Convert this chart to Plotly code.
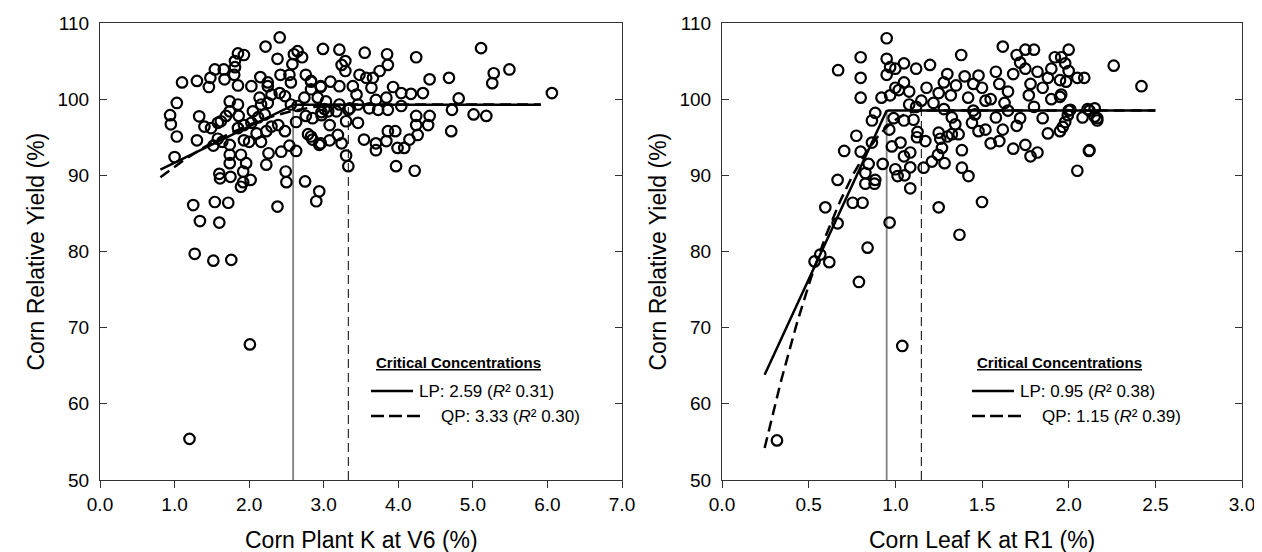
import numpy as np
import plotly.graph_objects as go

# ---------------- data: left panel (Corn Plant K at V6) ----------------
v6_k = [2.41, 2.22, 2.38, 1.85, 1.93, 1.81, 1.81, 1.54, 1.66, 1.48, 1.10, 1.30, 1.46, 1.67, 1.80, 1.85,
        2.03, 2.15, 2.25, 2.25, 2.42, 2.54, 2.56, 2.65, 2.71, 2.60, 2.58, 2.76, 2.83, 2.96, 2.99, 1.03,
        0.94, 0.95, 1.03, 1.00, 1.33, 1.30, 1.40, 1.49, 1.58, 1.62, 1.69, 1.74, 1.85, 1.86, 1.74, 1.58,
        1.64, 1.52, 1.74, 1.74, 1.74, 1.89, 1.96, 1.92, 1.60, 1.75, 1.61, 1.92, 1.89, 2.02, 1.85, 1.93,
        2.03, 2.12, 2.21, 2.05, 2.16, 2.25, 2.30, 2.41, 2.48, 2.14, 2.63, 2.56, 2.65, 2.74, 2.83, 2.92,
        2.76, 2.97, 3.01, 1.93, 2.00, 2.10, 2.16, 2.23, 2.48, 2.39, 2.30, 2.63, 2.54, 2.43, 2.26, 2.23,
        2.49, 2.50, 2.75, 2.79, 2.85, 2.96, 2.94, 2.90, 1.25, 1.54, 1.72, 2.38, 1.34, 1.60, 1.27, 1.52,
        1.76, 2.01, 1.20, 3.21, 3.55, 3.85, 3.86, 4.24, 5.11, 5.28, 5.26, 5.49, 6.06, 3.24, 3.29, 3.29,
        3.48, 3.57, 3.66, 3.75, 4.42, 4.68, 4.33, 4.81, 4.72, 5.01, 5.18, 4.71, 4.24, 4.42, 4.24, 4.40,
        4.26, 4.15, 4.08, 3.99, 3.86, 3.96, 3.84, 3.70, 3.70, 3.54, 3.97, 4.22, 3.30, 3.33, 2.83, 2.96,
        3.09, 3.21, 3.39, 3.44, 3.64, 3.70, 3.93, 4.04, 4.17, 3.84, 4.04, 3.86, 3.73, 3.61, 3.46, 3.35,
        3.30, 3.46, 3.33, 3.21, 3.17, 3.03, 3.06, 2.97, 3.08, 3.19, 3.24, 3.08, 2.94, 2.83, 2.85]
v6_yield = [108.1, 106.9, 105.3, 106.0, 105.8, 105.0, 104.2, 103.9, 103.9, 102.8, 102.2, 102.4, 101.6, 102.6, 103.2, 101.8,
            101.7, 102.9, 102.2, 101.7, 103.2, 103.2, 102.2, 106.3, 105.5, 105.9, 104.6, 103.2, 102.4, 101.7, 106.6, 99.5,
            97.9, 96.7, 95.1, 92.4, 97.75, 94.6, 96.4, 96.2, 96.9, 97.1, 97.8, 98.4, 99.3, 97.8, 99.7, 94.8,
            94.4, 93.9, 94.0, 92.7, 91.6, 92.7, 91.6, 90.5, 90.2, 89.8, 89.6, 89.1, 88.5, 89.4, 96.2, 96.6,
            96.9, 97.6, 98.0, 98.4, 99.3, 99.5, 100.6, 100.8, 100.4, 100.2, 97.0, 99.3, 99.1, 100.2, 101.3, 100.2,
            97.8, 98.3, 98.7, 94.6, 94.4, 95.5, 94.4, 95.8, 95.8, 96.6, 96.4, 93.2, 93.9, 93.1, 92.9, 91.4,
            90.5, 89.1, 89.2, 95.4, 94.7, 94.2, 87.9, 86.6, 86.1, 86.5, 86.4, 85.9, 84.0, 83.8, 79.7, 78.8,
            78.9, 67.8, 55.4, 106.5, 106.1, 105.9, 104.5, 105.5, 106.7, 103.4, 102.1, 103.9, 100.8, 104.5, 105.0, 103.7,
            103.2, 102.8, 102.8, 103.7, 102.6, 102.8, 100.8, 100.1, 98.6, 98.0, 97.8, 95.8, 97.8, 97.8, 96.6, 96.6,
            95.3, 94.7, 93.6, 93.6, 95.8, 95.8, 94.5, 94.2, 93.3, 94.7, 91.2, 90.6, 92.6, 91.2, 102.3, 101.6,
            102.3, 101.7, 101.7, 100.6, 101.5, 99.9, 101.6, 100.8, 100.7, 100.2, 99.1, 98.6, 98.6, 98.8, 99.3, 98.8,
            97.1, 96.9, 98.6, 99.3, 98.4, 99.7, 98.4, 97.9, 96.6, 95.3, 94.2, 94.6, 94.0, 95.1, 97.5]

# ---------------- data: right panel (Corn Leaf K at R1) ----------------
r1_k = [0.317, 1.04, 0.79, 0.84, 0.534, 0.567, 0.619, 0.667, 0.967, 1.37, 1.25, 0.596, 0.754, 0.811, 1.50, 0.667,
        0.827, 0.880, 0.884, 0.705, 0.80, 0.775, 0.827, 0.846, 0.865, 0.865, 0.884, 0.927, 0.965, 0.98, 1.03, 1.05,
        1.086, 1.086, 1.00, 1.053, 1.086, 1.013, 1.05, 1.105, 0.99, 1.128, 1.125, 1.173, 1.163, 1.211, 1.246, 1.269,
        1.284, 1.259, 1.25, 1.30, 1.326, 1.365, 1.326, 1.384, 1.384, 1.422, 1.442, 1.48, 1.46, 1.346,
        0.95, 0.95, 0.97, 0.95, 0.80, 0.80, 0.67, 0.80, 0.92, 0.97, 1.00, 1.05, 1.05, 1.08, 1.12,
        1.18, 1.20, 1.25, 1.28, 1.30, 1.35, 1.38, 1.40, 1.45, 1.48, 1.50, 1.52, 1.55, 1.58, 1.60, 1.62,
        1.63, 1.65, 1.68, 1.70, 1.72, 1.75, 1.75, 1.78, 1.80, 1.82, 1.85, 1.88, 1.90, 1.92, 2.00, 2.05,
        2.12, 2.15, 2.05, 2.12, 2.15, 1.98, 1.95, 1.88, 1.82, 1.78, 1.75, 1.70, 1.68, 1.60, 1.55, 1.52,
        1.65, 1.72, 1.80, 1.85, 1.90, 2.00, 1.58, 1.62, 1.77, 1.95, 1.02, 1.08, 1.15, 1.22, 1.28, 1.32,
        1.42, 1.45, 1.12, 1.00, 2.0, 1.957, 1.98, 2.26, 2.09, 2.42, 1.95, 1.985, 1.957, 2.01, 2.11, 1.995,
        2.08, 2.165, 2.165, 1.966, 2.117]
r1_yield = [55.2, 67.6, 76.0, 80.5, 78.7, 79.6, 78.6, 83.7, 83.8, 82.2, 85.8, 85.8, 86.4, 86.4, 86.5, 89.4,
            88.9, 88.9, 89.4, 93.2, 93.1, 95.2, 90.3, 91.5, 94.3, 97.2, 98.2, 91.5, 96.0, 93.8, 94.3, 92.5,
            93.0, 91.05, 90.8, 90.0, 88.3, 89.9, 97.2, 97.3, 97.5, 95.7, 95.0, 94.5, 91.0, 91.8, 92.7, 93.6,
            91.6, 94.8, 95.6, 95.1, 95.4, 95.4, 97.6, 93.3, 91.0, 89.9, 96.9, 95.8, 98.0, 96.7,
            108.0, 105.3, 104.2, 103.2, 105.5, 102.8, 103.8, 100.2, 100.2, 100.5, 101.5, 102.2, 104.7, 101.0, 99.0,
            101.5, 104.5, 100.8, 102.2, 103.3, 101.8, 105.8, 103.0, 102.0, 103.1, 101.5, 99.8, 100.0, 103.6, 102.0, 106.9,
            99.5, 101.0, 103.3, 105.8, 104.8, 106.5, 104.0, 102.0, 106.5, 103.6, 101.5, 102.8, 104.0, 105.5, 103.7, 102.8,
            98.5, 98.8, 90.6, 93.3, 97.7, 97.0, 95.8, 95.5, 93.0, 92.5, 94.0, 96.5, 93.5, 94.5, 94.2, 96.0,
            98.5, 97.5, 99.0, 97.5, 100.0, 98.5, 97.6, 96.0, 100.5, 100.3, 101.2, 99.3, 99.8, 99.5, 98.7, 100.5,
            100.2, 98.5, 104.0, 104.0, 106.5, 105.5, 104.7, 104.4, 102.8, 101.7, 102.5, 102.3, 100.6, 98.6, 98.7, 97.9,
            97.6, 97.5, 97.2, 96.35, 93.2]

# ---------------- model fits (linear-plateau and quadratic-plateau) ----------------
v6_lp = dict(join=2.59, plateau=99.28, slope=4.80, xmin=0.81, xmax=5.91)
v6_qp = dict(join=3.33, plateau=99.30, curv=1.502, xmin=0.81, xmax=5.91)
r1_lp = dict(join=0.95, plateau=98.50, slope=49.25, xmin=0.246, xmax=2.50)
r1_qp = dict(join=1.15, plateau=98.50, curv=54.2, xmin=0.246, xmax=2.50)

legend_title = "Critical Concentrations"
v6_crit = [("LP", "2.59", "0.31"), ("QP", "3.33", "0.30")]
r1_crit = [("LP", "0.95", "0.38"), ("QP", "1.15", "0.39")]
x_titles = ["Corn Plant K at V6 (%)", "Corn Leaf K at R1 (%)"]
y_title = "Corn Relative Yield (%)"


def lp_curve(p):
    xs = np.linspace(p["xmin"], p["xmax"], 200)
    ys = np.where(xs < p["join"], p["plateau"] - p["slope"] * (p["join"] - xs), p["plateau"])
    return xs, ys


def qp_curve(p):
    xs = np.linspace(p["xmin"], p["xmax"], 300)
    ys = np.where(xs < p["join"], p["plateau"] - p["curv"] * (p["join"] - xs) ** 2, p["plateau"])
    return xs, ys


def crit_label(model, value, r2):
    return f"{model}: {value} (<i>R</i>\u00b2 {r2})"


W, H = 1262, 552
FONT = "Liberation Sans, Arial, sans-serif"
TICK_SIZE = 19
TITLE_SIZE = 23
LEG_TITLE_SIZE = 15
LEG_SIZE = 17

fig = go.Figure()

panels = [
    dict(k=v6_k, y=v6_yield, lp=v6_lp, qp=v6_qp, xa="x", ya="y"),
    dict(k=r1_k, y=r1_yield, lp=r1_lp, qp=r1_qp, xa="x2", ya="y2"),
]

for p in panels:
    # critical concentration verticals
    fig.add_trace(go.Scatter(x=[p["lp"]["join"], p["lp"]["join"]], y=[50, p["lp"]["plateau"]],
                             mode="lines", line=dict(color="#808080", width=1.8),
                             xaxis=p["xa"], yaxis=p["ya"], showlegend=False, hoverinfo="skip"))
    fig.add_trace(go.Scatter(x=[p["qp"]["join"], p["qp"]["join"]], y=[50, p["qp"]["plateau"]],
                             mode="lines", line=dict(color="black", width=1, dash="9px,5px"),
                             xaxis=p["xa"], yaxis=p["ya"], showlegend=False, hoverinfo="skip"))
    fig.add_trace(go.Scatter(x=p["k"], y=p["y"], mode="markers",
                             marker=dict(symbol="circle-open", size=10.5, color="black",
                                         line=dict(width=2.2, color="black")),
                             xaxis=p["xa"], yaxis=p["ya"], showlegend=False))
    xs, ys = lp_curve(p["lp"])
    fig.add_trace(go.Scatter(x=xs, y=ys, mode="lines", line=dict(color="black", width=2.5),
                             xaxis=p["xa"], yaxis=p["ya"], showlegend=False, hoverinfo="skip"))
    xs, ys = qp_curve(p["qp"])
    fig.add_trace(go.Scatter(x=xs, y=ys, mode="lines", line=dict(color="black", width=2.5, dash="11px,6px"),
                             xaxis=p["xa"], yaxis=p["ya"], showlegend=False, hoverinfo="skip"))

# geometry (pixels)
L1, R1 = 92, 614
L2, R2 = 714, 1234
TOP, BOT = 15, 472

axis_common = dict(showgrid=False, zeroline=False, showline=True, linecolor="#333333", linewidth=1.2,
                   tickfont=dict(family=FONT, size=TICK_SIZE, color="black"), ticklen=7, tickwidth=1.2,
                   tickcolor="#333333", automargin=False)

fig.update_layout(
    width=W, height=H, margin=dict(l=0, r=0, t=0, b=0),
    paper_bgcolor="white", plot_bgcolor="white",
    font=dict(family=FONT, color="black"),
    xaxis=dict(domain=[L1 / W, R1 / W], range=[0, 7], tickvals=[0, 1, 2, 3, 4, 5, 6, 7],
               ticktext=["0.0", "1.0", "2.0", "3.0", "4.0", "5.0", "6.0", "7.0"],
               ticks="outside", mirror=True, anchor="y", **axis_common),
    yaxis=dict(domain=[(H - BOT) / H, (H - TOP) / H], range=[50, 110], tickvals=list(range(50, 111, 10)),
               ticks="inside", mirror="ticks", anchor="x", ticklabelstandoff=6, **axis_common),
    xaxis2=dict(domain=[L2 / W, R2 / W], range=[0, 3], tickvals=[0, 0.5, 1, 1.5, 2, 2.5, 3],
                ticktext=["0.0", "0.5", "1.0", "1.5", "2.0", "2.5", "3.0"],
                ticks="outside", mirror=True, anchor="y2", **axis_common),
    yaxis2=dict(domain=[(H - BOT) / H, (H - TOP) / H], range=[50, 110], tickvals=list(range(50, 111, 10)),
                ticks="inside", mirror="ticks", anchor="x2", ticklabelstandoff=6, **axis_common),
)

annotations = []
# axis titles
for cx, t in zip([(L1 + R1) / 2, (L2 + R2) / 2], x_titles):
    annotations.append(dict(x=cx / W, y=(H - 532) / H, xref="paper", yref="paper", text=t, showarrow=False,
                            font=dict(family=FONT, size=TITLE_SIZE, color="black"),
                            xanchor="center", yanchor="middle"))
for cx in [27, 649]:
    annotations.append(dict(x=cx / W, y=(H - (TOP + BOT) / 2) / H, xref="paper", yref="paper", text=y_title,
                            showarrow=False, textangle=-90, font=dict(family=FONT, size=TITLE_SIZE, color="black"),
                            xanchor="center", yanchor="middle"))

# legend-like text blocks
shapes = []
for x0, crit in [(369, v6_crit), (970, r1_crit)]:
    annotations.append(dict(x=(x0 - 3) / W, y=(H - 354) / H, xref="paper", yref="paper",
                            text="<b><u>" + legend_title + "</u></b>", showarrow=False,
                            font=dict(family=FONT, size=LEG_TITLE_SIZE, color="black"),
                            xanchor="left", yanchor="middle"))
    annotations.append(dict(x=(x0 + 40) / W, y=(H - 383) / H, xref="paper", yref="paper",
                            text=crit_label(*crit[0]),
                            showarrow=False, font=dict(family=FONT, size=LEG_SIZE, color="black"),
                            xanchor="left", yanchor="middle"))
    annotations.append(dict(x=(x0 + 62) / W, y=(H - 408) / H, xref="paper", yref="paper",
                            text=crit_label(*crit[1]),
                            showarrow=False, font=dict(family=FONT, size=LEG_SIZE, color="black"),
                            xanchor="left", yanchor="middle"))
    shapes.append(dict(type="line", xref="paper", yref="paper", x0=(x0 - 6) / W, x1=(x0 + 36) / W,
                       y0=(H - 383) / H, y1=(H - 383) / H, line=dict(color="black", width=2.5)))
    shapes.append(dict(type="line", xref="paper", yref="paper", x0=(x0 - 6) / W, x1=(x0 + 43) / W,
                       y0=(H - 408) / H, y1=(H - 408) / H, line=dict(color="black", width=2.5, dash="13px,5px")))

fig.update_layout(annotations=annotations, shapes=shapes)
fig.write_html("out.html")
